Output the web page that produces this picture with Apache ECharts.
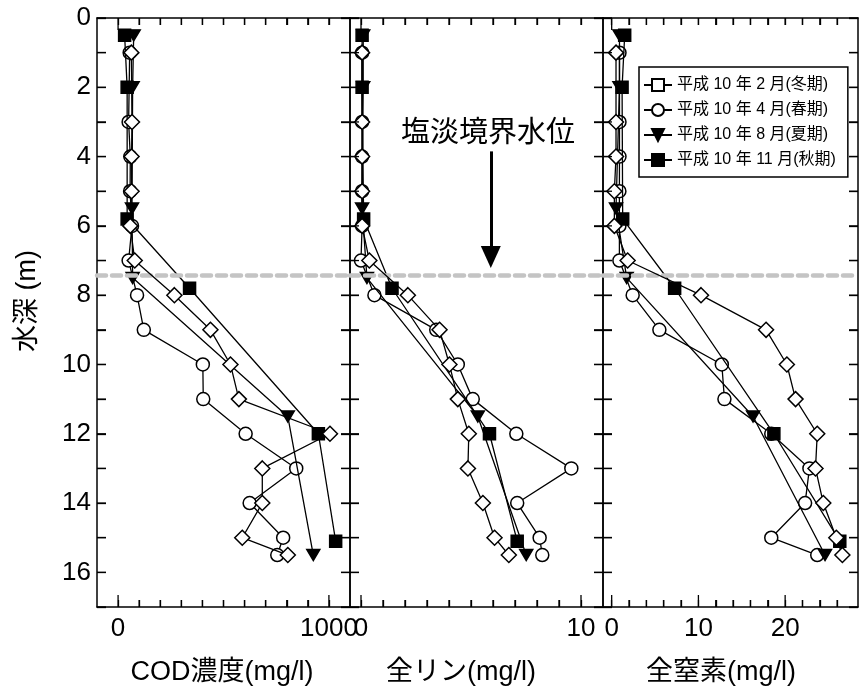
<!DOCTYPE html>
<html><head><meta charset="utf-8">
<script src="https://cdn.jsdelivr.net/npm/echarts@6/dist/echarts.min.js"></script>
<style>html,body{margin:0;padding:0;background:#fff}#c{width:860px;height:691px}</style>
</head><body><div id="c"></div>
<script>
// ---- data (depth in m, values in mg/l) ----
const depthWinter = [1, 3, 4, 5, 6, 7, 8, 9, 10, 11, 12, 13, 14, 15, 15.5];
const depthSpring = [1, 3, 4, 5, 6, 7, 8, 9, 10, 11, 12, 13, 14, 15, 15.5];
const depthSummer = [0.5, 2, 5.5, 7.5, 11.5, 15.5];
const depthAutumn = [0.5, 2, 5.8, 7.8, 12, 15.1];

const codWinter = [63, 66, 64, 64, 58, 79, 267, 438, 533, 573, 1005, 684, 684, 589, 805];
const codSpring = [55, 50, 58, 57, 66, 50, 90, 122, 402, 404, 605, 845, 624, 783, 755];
const codSummer = [74, 69, 66, 69, 805, 926];
const codAutumn = [31, 43, 43, 339, 950, 1032];

const tpWinter = [0.05, 0.05, 0.05, 0.05, 0.05, 0.38, 2.13, 3.57, 4.02, 4.40, 4.90, 4.86, 5.54, 6.07, 6.72];
const tpSpring = [0.05, 0.05, 0.05, 0.05, 0.05, 0.0, 0.61, 3.42, 4.40, 5.08, 7.06, 9.56, 7.10, 8.12, 8.24];
const tpSummer = [0.1, 0.1, 0.05, 0.27, 5.31, 7.51];
const tpAutumn = [0.05, 0.05, 0.12, 1.41, 5.84, 7.10];

const tnWinter = [0.5, 0.5, 0.5, 0.31, 0.31, 1.84, 10.3, 17.8, 20.2, 21.2, 23.7, 23.5, 24.4, 25.9, 26.6];
const tnSpring = [0.9, 0.9, 0.9, 0.89, 0.89, 0.89, 2.42, 5.5, 12.7, 13.0, 18.4, 22.8, 22.3, 18.4, 23.7];
const tnSummer = [0.9, 0.9, 0.5, 1.73, 16.3, 24.6];
const tnAutumn = [1.5, 1.2, 1.27, 7.26, 18.7, 26.3];

const seriesNames = ['平成 10 年 2 月(冬期)', '平成 10 年 4 月(春期)', '平成 10 年 8 月(夏期)', '平成 10 年 11 月(秋期)'];
const codTickLabels = [0, 1000];
const tpTickLabels = [0, 10];
const tnTickLabels = [0, 10, 20];
const codTickMarks = [0, 100, 200, 300, 400, 500, 600, 700, 800, 900, 1000];
const tpTickMarks = [0, 1, 2, 3, 4, 5, 6, 7, 8, 9, 10];
const tnTickMarks = [0, 2, 4, 6, 8, 10, 12, 14, 16, 18, 20, 22, 24, 26];
const depthTickMarks = [0, 1, 2, 3, 4, 5, 6, 7, 8, 9, 10, 11, 12, 13, 14, 15, 16, 17];
const haloclineDepth = 7.43;
const annotationText = '塩淡境界水位';
const arrowX = 5.9, arrowFrom = 3.85, arrowTo = 6.9;
const xTitles = ['COD濃度(mg/l)', '全リン(mg/l)', '全窒素(mg/l)'];
const yTitle = '水深 (m)';

// ---- chart ----
const FONT = '"Liberation Sans", Arial, "Noto Sans CJK JP", sans-serif';
const TOP = 18, HEIGHT = 589, DEPTH_MIN = 0, DEPTH_MAX = 17;
const panels = [
  {left: 97, width: 253, min: -100, max: 1100, major: codTickLabels, marks: codTickMarks,
   vals: [codWinter, codSpring, codSummer, codAutumn]},
  {left: 350, width: 253, min: -0.5, max: 11, major: tpTickLabels, marks: tpTickMarks,
   vals: [tpWinter, tpSpring, tpSummer, tpAutumn]},
  {left: 603, width: 255, min: -1, max: 28.4, major: tnTickLabels, marks: tnTickMarks,
   vals: [tnWinter, tnSpring, tnSummer, tnAutumn]}
];
const depths = [depthWinter, depthSpring, depthSummer, depthAutumn];
const styles = [
  {symbol: 'diamond', size: 15, fill: '#fff', z: 5},
  {symbol: 'circle', size: 13, fill: '#fff', z: 2},
  {symbol: 'path://M0,0L10,0L5,9Z', size: [13, 11], fill: '#000', z: 3},
  {symbol: 'rect', size: 12, fill: '#000', z: 4}
];

const grids = [], xAxes = [], yAxes = [], series = [];
const axLine = () => ({show: true, onZero: false, lineStyle: {color: '#000', width: 1.5}});
const axTick = (len, vals) => {
  const t = {show: true, inside: true, length: len, lineStyle: {color: '#000', width: 1.3}};
  if (vals) t.customValues = vals;
  return t;
};

// legend-only series for the winter key (open square)
series.push({
  type: 'line', name: seriesNames[0], data: [], xAxisIndex: 0, yAxisIndex: 0,
  symbol: 'rect', symbolSize: 12,
  itemStyle: {color: '#fff', borderColor: '#000', borderWidth: 1.5},
  lineStyle: {color: '#000', width: 1.3}
});

panels.forEach((p, pi) => {
  grids.push({left: p.left, top: TOP, width: p.width, height: HEIGHT});
  xAxes.push({
    type: 'value', gridIndex: pi, min: p.min, max: p.max, splitLine: {show: false},
    axisLine: axLine(), axisTick: axTick(7, p.marks),
    axisLabel: {show: true, customValues: p.major, formatter: v => String(v), color: '#000', fontSize: 26, fontFamily: FONT, margin: 9}
  });
  xAxes.push({
    type: 'value', gridIndex: pi, min: p.min, max: p.max, splitLine: {show: false}, position: 'top',
    axisLine: axLine(), axisTick: axTick(7, p.marks), axisLabel: {show: false}
  });
  yAxes.push({
    type: 'value', gridIndex: pi, inverse: true, min: DEPTH_MIN, max: DEPTH_MAX, interval: 1, splitLine: {show: false},
    axisLine: axLine(), axisTick: axTick(9),
    axisLabel: pi === 0
      ? {show: true, formatter: v => (v % 2 === 0 && v <= 16 ? String(v) : ''), color: '#000', fontSize: 26, fontFamily: FONT, margin: 6}
      : {show: false}
  });
  yAxes.push({
    type: 'value', gridIndex: pi, inverse: true, min: DEPTH_MIN, max: DEPTH_MAX, interval: 1, splitLine: {show: false}, position: 'right',
    axisLine: axLine(), axisTick: axTick(9), axisLabel: {show: false}
  });

  // inward tick marks on the bottom/top edges, placed through the x scale (longer at labelled values)
  series.push({
    type: 'custom', name: 'xticks' + pi, xAxisIndex: pi * 2, yAxisIndex: pi * 2,
    silent: true, z: 6, animation: false,
    data: p.marks.map(v => [v, DEPTH_MIN]),
    renderItem: function (params, api) {
      const v = api.value(0);
      const bot = api.coord([v, DEPTH_MAX]);
      const top = api.coord([v, DEPTH_MIN]);
      const lb = p.major.indexOf(v) >= 0 ? 12 : 7;
      const lt = v === p.major[0] ? 12 : 7;
      return {type: 'group', children: [
        {type: 'line', shape: {x1: bot[0], y1: bot[1], x2: bot[0], y2: bot[1] - lb}, style: {stroke: '#000', lineWidth: 1.3}},
        {type: 'line', shape: {x1: top[0], y1: top[1], x2: top[0], y2: top[1] + lt}, style: {stroke: '#000', lineWidth: 1.3}}
      ]};
    }
  });
  // inward tick marks on the left/right edges, placed through the depth scale
  series.push({
    type: 'custom', name: 'yticks' + pi, xAxisIndex: pi * 2, yAxisIndex: pi * 2,
    silent: true, z: 6, animation: false,
    data: depthTickMarks.map(d => [p.min, d]),
    renderItem: function (params, api) {
      const d = api.value(1);
      const l = api.coord([p.min, d]);
      const r = api.coord([p.max, d]);
      return {type: 'group', children: [
        {type: 'line', shape: {x1: l[0], y1: l[1], x2: l[0] + 9, y2: l[1]}, style: {stroke: '#000', lineWidth: 1.3}},
        {type: 'line', shape: {x1: r[0], y1: r[1], x2: r[0] - 9, y2: r[1]}, style: {stroke: '#000', lineWidth: 1.3}}
      ]};
    }
  });

  p.vals.forEach((vals, si) => {
    const st = styles[si];
    const s = {
      type: 'line', name: seriesNames[si],
      xAxisIndex: pi * 2, yAxisIndex: pi * 2,
      data: vals.map((v, i) => [v, depths[si][i]]),
      symbol: st.symbol, symbolSize: st.size, showSymbol: true, z: st.z,
      itemStyle: {color: st.fill, borderColor: '#000', borderWidth: 1.5},
      lineStyle: {color: '#000', width: 1.3},
      silent: true
    };
    if (si === 1) {
      s.markLine = {
        silent: true, symbol: ['none', 'none'], label: {show: false},
        lineStyle: {color: '#c4c4c4', width: 4.5, type: [9, 6], cap: 'round'},
        data: [{yAxis: haloclineDepth}]
      };
    }
    if (pi === 1 && si === 2) {
      s.markLine = {
        silent: true, symbol: ['none', 'triangle'], symbolSize: [20, 22], label: {show: false},
        lineStyle: {color: '#000', width: 3, type: 'solid'},
        data: [[{coord: [arrowX, arrowFrom]}, {coord: [arrowX, arrowTo]}]]
      };
    }
    series.push(s);
  });
});

const graphic = [
  {type: 'text', x: 28, y: 301, rotation: Math.PI / 2,
   style: {text: yTitle, fontSize: 27, fontFamily: FONT, fill: '#000', align: 'center', verticalAlign: 'middle'}},
  {type: 'text', x: 222, y: 673, style: {text: xTitles[0], fontSize: 27, fontFamily: FONT, fill: '#000', align: 'center', verticalAlign: 'middle'}},
  {type: 'text', x: 461, y: 673, style: {text: xTitles[1], fontSize: 27, fontFamily: FONT, fill: '#000', align: 'center', verticalAlign: 'middle'}},
  {type: 'text', x: 721, y: 673, style: {text: xTitles[2], fontSize: 27, fontFamily: FONT, fill: '#000', align: 'center', verticalAlign: 'middle'}},
  {type: 'text', x: 488, y: 134, z: 10, style: {text: annotationText, fontSize: 29, fontFamily: FONT, fill: '#000', align: 'center', verticalAlign: 'middle'}}
];

const chart = echarts.init(document.getElementById('c'), null, {renderer: 'canvas'});
chart.setOption({
  animation: false,
  backgroundColor: '#fff',
  grid: grids,
  xAxis: xAxes,
  yAxis: yAxes,
  legend: {
    data: seriesNames, orient: 'vertical', left: 639, top: 67,
    padding: [10, 12, 9, 4], itemGap: 9, itemWidth: 28, itemHeight: 15,
    borderColor: '#000', borderWidth: 1.5, backgroundColor: '#fff',
    textStyle: {fontSize: 16, color: '#000', fontFamily: FONT},
    selectedMode: false, z: 20
  },
  series: series,
  graphic: graphic
});
</script></body></html>
